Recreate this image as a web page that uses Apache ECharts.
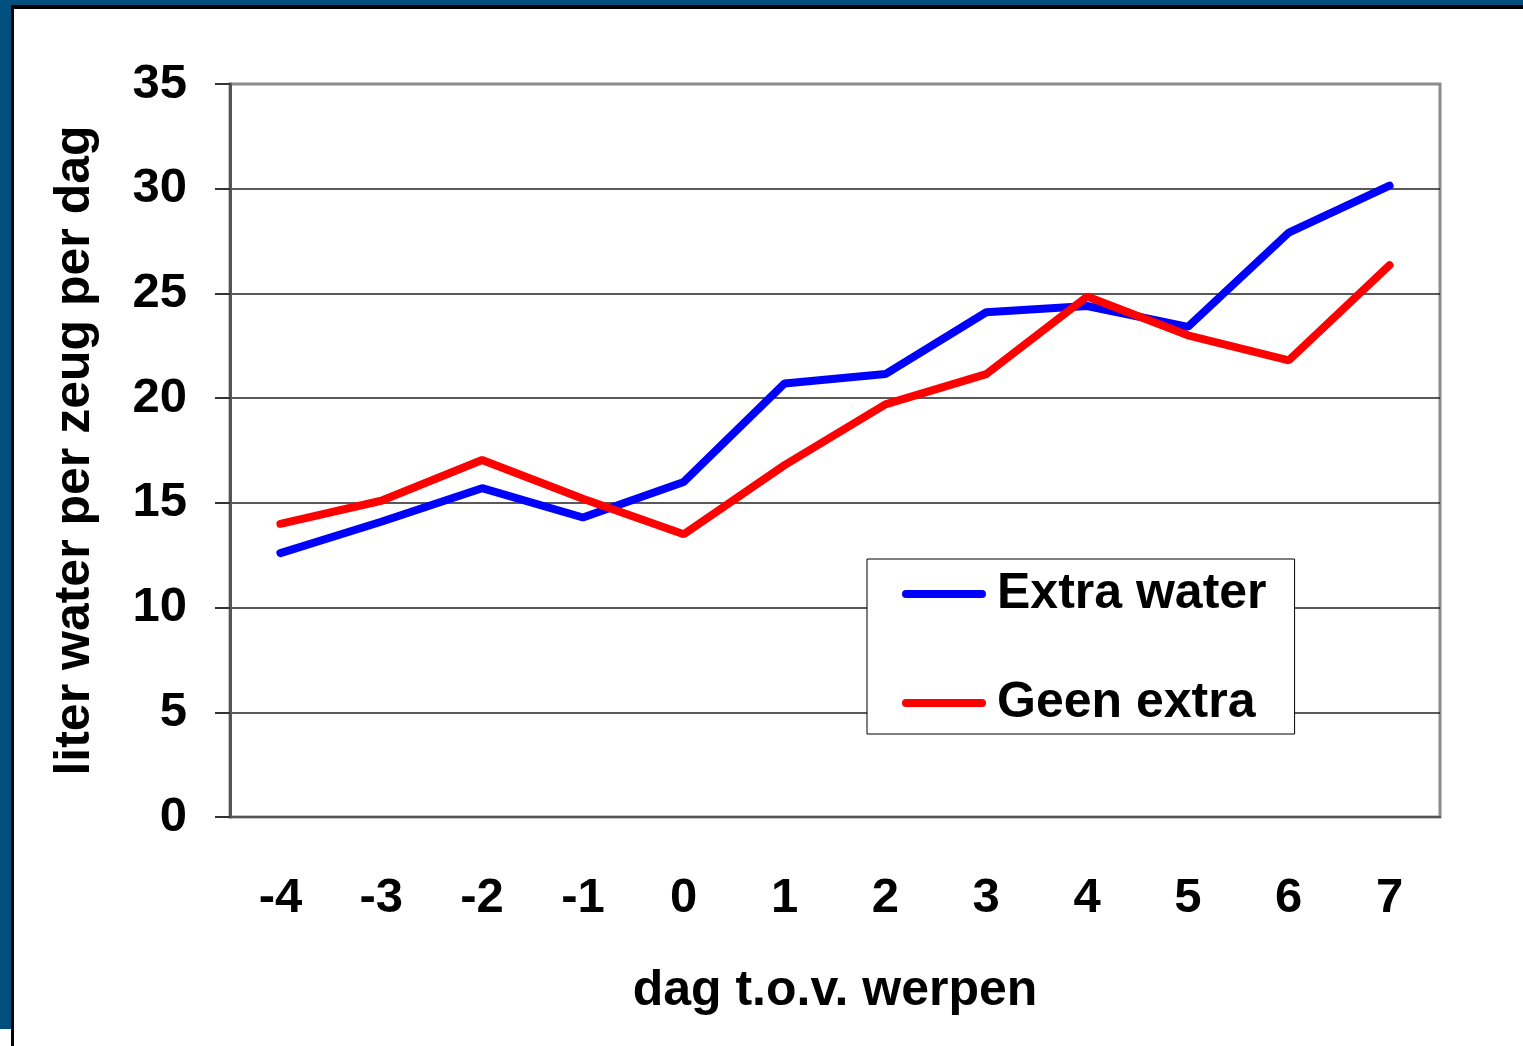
<!DOCTYPE html>
<html>
<head>
<meta charset="utf-8">
<script src="https://cdn.jsdelivr.net/npm/echarts@6/dist/echarts.min.js"></script>
<style>
  html, body {
    margin: 0;
    padding: 0;
    width: 1523px;
    height: 1046px;
    overflow: hidden;
    background: #00507f;
  }
  .frame {
    position: absolute;
    left: 11px;
    top: 5px;
    right: 0;
    bottom: 0;
    background: #fff;
    border-left: 3px solid #000;
    border-top: 4px solid #000;
  }
  .corner {
    position: absolute;
    left: 0;
    top: 1029px;
    width: 11px;
    height: 17px;
    background: #fff;
  }
  #chart {
    position: absolute;
    left: 0;
    top: 0;
    width: 1523px;
    height: 1046px;
  }
</style>
</head>
<body>
<div class="frame"></div>
<div class="corner"></div>
<div id="chart"></div>
<script>
// Days relative to farrowing
const days = ['-4', '-3', '-2', '-1', '0', '1', '2', '3', '4', '5', '6', '7']

// Litres of water per sow per day
const extraWater = [12.6, 14.1, 15.7, 14.3, 16.0, 20.7, 21.15, 24.1, 24.4, 23.4, 27.9, 30.15]
const geenExtra = [14.0, 15.1, 17.05, 15.2, 13.5, 16.8, 19.7, 21.15, 24.85, 23.0, 21.8, 26.35]

const font = '"Liberation Sans", Arial, sans-serif'

const chart = echarts.init(document.getElementById('chart'))
chart.setOption({
  animation: false,
  grid: {
    left: 230,
    top: 84,
    width: 1210,
    height: 733,
    show: true,
    borderColor: '#8c8c8c',
    borderWidth: 3,
    backgroundColor: 'transparent'
  },
  legend: {
    orient: 'vertical',
    left: 867,
    top: 559,
    padding: [5, 28, 1, 35],
    itemWidth: 84,
    itemHeight: 8,
    itemGap: 49,
    backgroundColor: '#fff',
    borderColor: '#000',
    borderWidth: 1,
    icon: 'path://M4,0 L80,0 A4,4 0 0 1 80,8 L4,8 A4,4 0 0 1 4,0 Z',
    textStyle: {
      fontFamily: font,
      fontWeight: 'bold',
      fontSize: 50,
      lineHeight: 50,
      padding: [10, 0, 0, 6],
      color: '#000'
    },
    data: ['Extra water', 'Geen extra']
  },
  xAxis: {
    type: 'category',
    data: days,
    boundaryGap: true,
    name: 'dag t.o.v. werpen',
    nameLocation: 'middle',
    nameGap: 149,
    nameTextStyle: {
      fontFamily: font,
      fontWeight: 'bold',
      fontSize: 50,
      color: '#000'
    },
    axisLine: { lineStyle: { color: '#555', width: 2 } },
    axisTick: {
      interval: 0,
      length: 15,
      lineStyle: { color: '#777', width: 2 }
    },
    axisLabel: {
      interval: 0,
      margin: 57,
      fontFamily: font,
      fontWeight: 'bold',
      fontSize: 49,
      color: '#000'
    },
    splitLine: { show: false }
  },
  yAxis: {
    type: 'value',
    min: 0,
    max: 35,
    interval: 5,
    name: 'liter water per zeug per dag',
    nameLocation: 'middle',
    nameGap: 130,
    nameTextStyle: {
      fontFamily: font,
      fontWeight: 'bold',
      fontSize: 50,
      color: '#000'
    },
    axisLine: { show: true, lineStyle: { color: '#555', width: 3 } },
    axisTick: {
      show: true,
      length: 15,
      lineStyle: { color: '#333', width: 2 }
    },
    axisLabel: {
      margin: 43,
      fontFamily: font,
      fontWeight: 'bold',
      fontSize: 49,
      color: '#000'
    },
    splitLine: {
      show: true,
      lineStyle: {
        color: ['#222', '#222', '#222', '#222', '#222', '#222', '#222', '#8c8c8c'],
        width: 1.5
      }
    }
  },
  series: [
    {
      name: 'Extra water',
      type: 'line',
      data: extraWater,
      showSymbol: false,
      symbol: 'none',
      color: '#0000ff',
      lineStyle: { color: '#0000ff', width: 8, cap: 'round' }
    },
    {
      name: 'Geen extra',
      type: 'line',
      data: geenExtra,
      showSymbol: false,
      symbol: 'none',
      color: '#ff0000',
      lineStyle: { color: '#ff0000', width: 8, cap: 'round' }
    }
  ]
})
</script>
</body>
</html>
